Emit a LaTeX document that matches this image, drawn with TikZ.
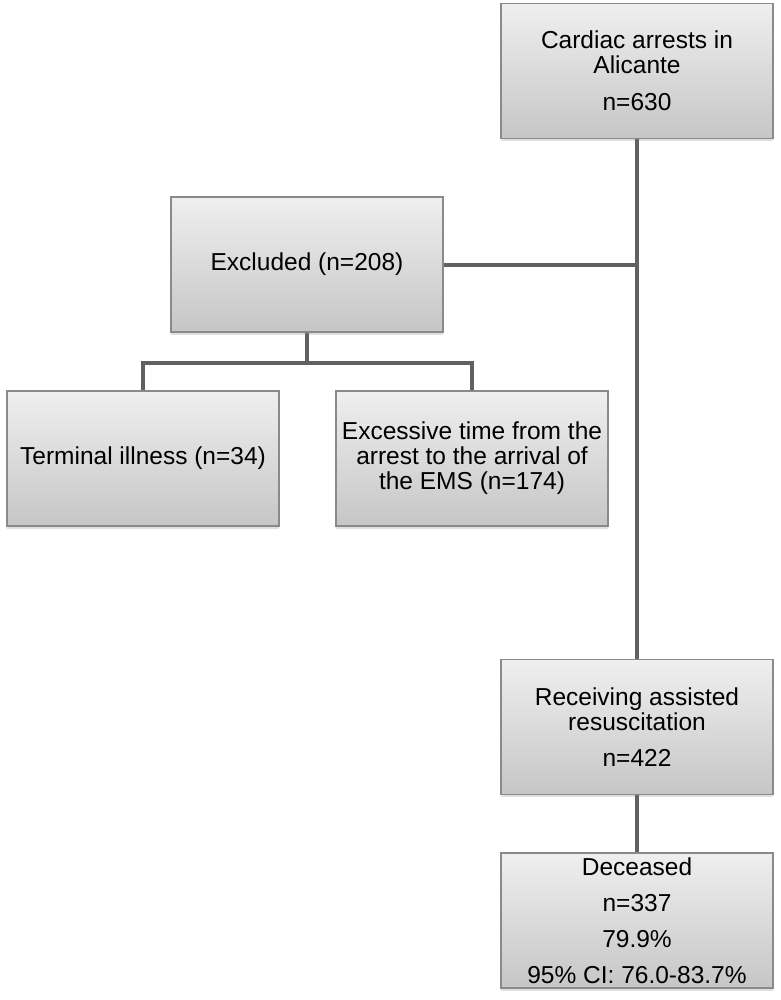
\documentclass[tikz,border=0pt]{standalone}
\usepackage{fontspec}
\setmainfont{Liberation Sans}
\usepackage{tikz}
\usetikzlibrary{shadows,backgrounds}

\definecolor{boxedge}{HTML}{8A8A8A}
\definecolor{boxtop}{HTML}{EFEFEF}
\definecolor{boxbottom}{HTML}{C6C6C6}
\definecolor{linkgray}{HTML}{616161}

\begin{document}
\begin{tikzpicture}[x=1pt, y=-1pt,
	every node/.style={font=\fontsize{24.5}{25}\selectfont},
	stagebox/.style={draw=boxedge, line width=1.2pt, top color=boxtop, bottom color=boxbottom,
		minimum width=272pt, minimum height=135pt, inner sep=0pt, align=center,
		drop shadow={shadow xshift=0pt, shadow yshift=-2.5pt, opacity=0.25}},
	link/.style={draw=linkgray, line width=4pt}]
	\useasboundingbox (0,0) rectangle (780,1000);
	\node[stagebox] (arrests) at (637,71) {Cardiac arrests in\\Alicante\\[12pt]n=630};
	\node[stagebox] (excluded) at (307,264.5) {Excluded (n=208)};
	\node[stagebox] (terminal) at (143,458.5) {Terminal illness (n=34)};
	\node[stagebox] (excessive) at (472,458.5) {Excessive time from the\\arrest to the arrival of\\the EMS (n=174)};
	\node[stagebox] (receiving) at (637,727) {Receiving assisted\\resuscitation\\[11pt]n=422};
	\node[stagebox] (deceased) at (637,920.5) {Deceased\\[11pt]n=337\\[11pt]79.9\%\\[11pt]95\% CI: 76.0-83.7\%};
	\coordinate (split) at ([yshift=-30pt]excluded.south);
	\begin{scope}[on background layer]
		\draw[link] (arrests) -- (receiving);
		\draw[link] (excluded.east) -- (excluded.east -| arrests.south);
		\draw[link] (excluded) -- (split);
		\draw[link] (terminal.north) |- (split) -| (excessive.north);
		\draw[link] (receiving) -- (deceased);
	\end{scope}
\end{tikzpicture}
\end{document}
